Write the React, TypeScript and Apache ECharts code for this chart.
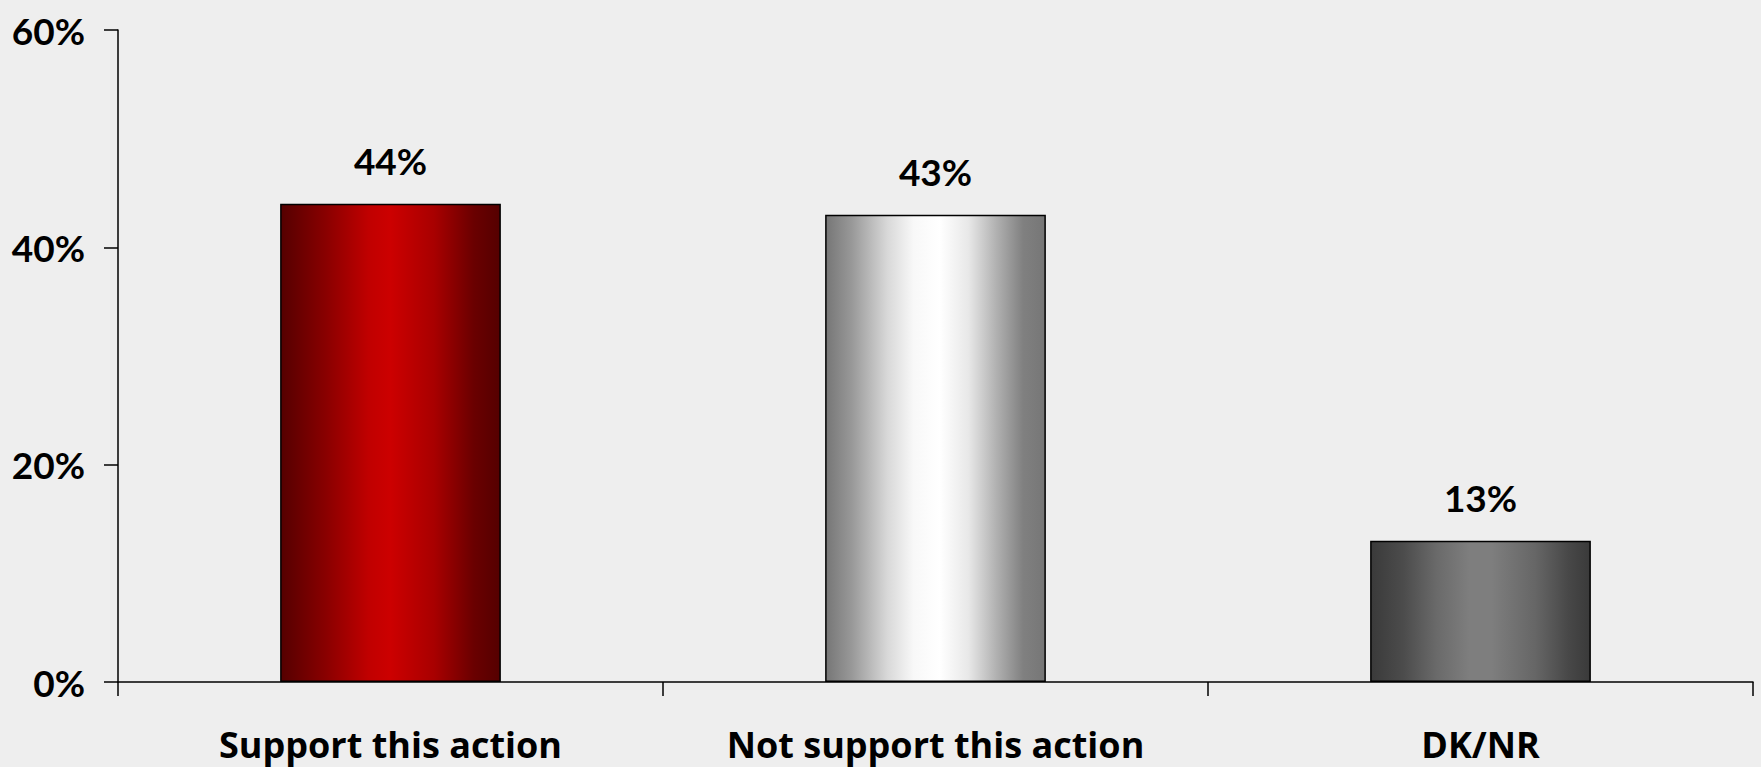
import React, { useEffect, useRef } from "react";
import * as echarts from "echarts";

const categories = ["Support this action", "Not support this action", "DK/NR"];
const values = [44, 43, 13];
const yMin = 0;
const yMax = 60;
const yInterval = 20;

const gradients: [number, string][][] = [
  [
    [0, "#550000"],
    [0.2, "#880000"],
    [0.4, "#c00000"],
    [0.5, "#cc0000"],
    [0.7, "#a80000"],
    [0.88, "#6a0000"],
    [1, "#550000"],
  ],
  [
    [0, "#767676"],
    [0.12, "#999999"],
    [0.28, "#d8d8d8"],
    [0.4, "#f8f8f8"],
    [0.52, "#ffffff"],
    [0.65, "#e8e8e8"],
    [0.78, "#b0b0b0"],
    [0.9, "#808080"],
    [1, "#767676"],
  ],
  [
    [0, "#3a3a3a"],
    [0.15, "#4c4c4c"],
    [0.3, "#6a6a6a"],
    [0.45, "#7e7e7e"],
    [0.55, "#7e7e7e"],
    [0.75, "#666666"],
    [0.9, "#484848"],
    [1, "#3a3a3a"],
  ],
];

const FONT = "Lato, 'Noto Sans', sans-serif";
const XFONT = "'Open Sans', 'Noto Sans', sans-serif";

export default function App() {
  const ref = useRef<HTMLDivElement>(null);
  useEffect(() => {
    if (!ref.current) return;
    const chart = echarts.init(ref.current, undefined, { renderer: "svg" });
    chart.setOption({
      animation: false,
      backgroundColor: "#eeeeee",
      grid: { left: 118, right: 8, top: 30, bottom: 85, containLabel: false },
      xAxis: {
        type: "category",
        data: categories,
        axisLine: { lineStyle: { color: "#000", width: 1.5 } },
        axisTick: { show: true, length: 14, lineStyle: { color: "#000", width: 1.5 } },
        axisLabel: {
          color: "#000",
          fontFamily: XFONT,
          fontWeight: "bold",
          fontSize: 36,
          margin: 44,
          interval: 0,
        },
      },
      yAxis: {
        type: "value",
        min: yMin,
        max: yMax,
        interval: yInterval,
        splitLine: { show: false },
        axisLine: { show: true, lineStyle: { color: "#000", width: 1.5 } },
        axisTick: { show: true, length: 14, lineStyle: { color: "#000", width: 1.5 } },
        axisLabel: {
          color: "#000",
          fontFamily: FONT,
          fontWeight: "bold",
          fontSize: 37,
          margin: 33,
          formatter: "{value}%",
        },
      },
      series: [
        {
          type: "bar",
          barWidth: "40.5%",
          data: values.map((v, i) => ({
            value: v,
            itemStyle: {
              color: new echarts.graphic.LinearGradient(
                0,
                0,
                1,
                0,
                gradients[i].map(([offset, color]) => ({ offset, color }))
              ),
              borderColor: "#000",
              borderWidth: 1.5,
            },
          })),
          label: {
            show: true,
            position: "top",
            distance: 25,
            color: "#000",
            fontFamily: FONT,
            fontWeight: "bold",
            fontSize: 37,
            formatter: "{c}%",
          },
        },
      ],
    });
    return () => chart.dispose();
  }, []);
  return (
    <div
      ref={ref}
      style={{ position: "fixed", left: 0, top: 0, width: 1761, height: 767 }}
    />
  );
}
